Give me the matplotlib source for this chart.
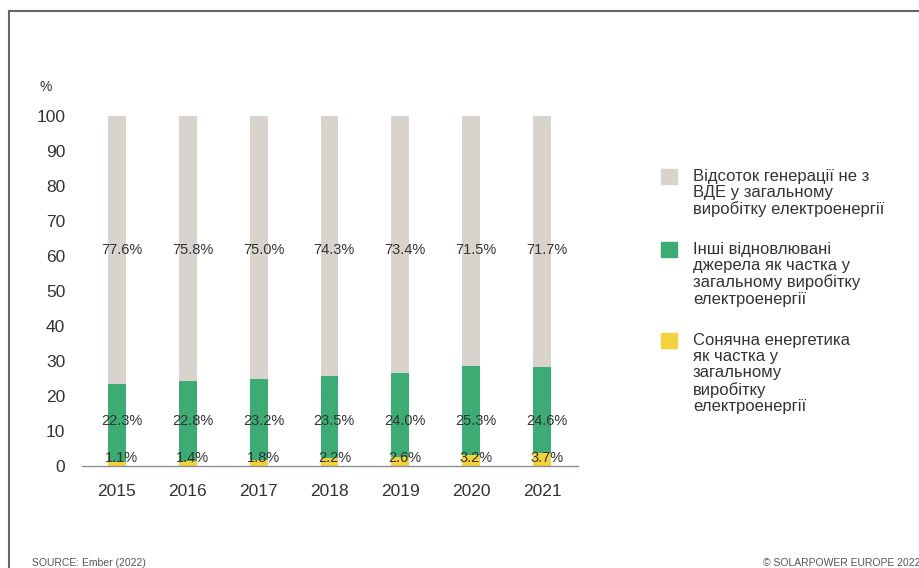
import matplotlib.pyplot as plt
from matplotlib.lines import Line2D
from matplotlib.patches import Rectangle

plt.rcParams['font.family'] = ['Liberation Sans', 'DejaVu Sans']

years = ['2015', '2016', '2017', '2018', '2019', '2020', '2021']
solar = [1.1, 1.4, 1.8, 2.2, 2.6, 3.2, 3.7]
other_re = [22.3, 22.8, 23.2, 23.5, 24.0, 25.3, 24.6]
non_re = [77.6, 75.8, 75.0, 74.3, 73.4, 71.5, 71.7]

legend_labels = [
    'Відсоток генерації не з\nВДЕ у загальному\nвиробітку електроенергії',
    'Інші відновлювані\nджерела як частка у\nзагальному виробітку\nелектроенергії',
    'Сонячна енергетика\nяк частка у\nзагальному\nвиробітку\nелектроенергії',
]

c_gray = '#d9d3ce'
c_green = '#3dab74'
c_yellow = '#f4d23e'
c_text = '#333333'

W, H = 919, 568
fig = plt.figure(figsize=(W / 100, H / 100), dpi=100)
ax = fig.add_axes([82 / W, 1 - 466 / H, (578 - 82) / W, 350 / H])

x = list(range(len(years)))
bw = 0.25
# the reference stacks to 100 regardless of label rounding
gray_bottom = [s + g for s, g in zip(solar, other_re)]
gray_h = [100 - b for b in gray_bottom]

ax.bar(x, solar, bw, color=c_yellow)
ax.bar(x, other_re, bw, bottom=solar, color=c_green)
ax.bar(x, gray_h, bw, bottom=gray_bottom, color=c_gray)

for i in x:
    ax.annotate(f'{non_re[i]:.1f}%', (i, 61.7), xytext=(3.5, 0), textcoords='offset points',
                ha='center', va='center', fontsize=10.5, color=c_text)
    ax.annotate(f'{other_re[i]:.1f}%', (i, 12.9), xytext=(3.5, 0), textcoords='offset points',
                ha='center', va='center', fontsize=10.5, color=c_text)
    ax.annotate(f'{solar[i]:.1f}%', (i, 2.4), xytext=(3.5, 0), textcoords='offset points',
                ha='center', va='center', fontsize=10.5, color=c_text)

ax.set_xlim(-0.494, 6.508)
ax.set_ylim(0, 100)
ax.set_xticks(x)
ax.set_xticklabels(years)
ax.set_yticks(range(0, 101, 10))
ax.tick_params(axis='both', length=0, labelsize=12.5, colors=c_text)
ax.tick_params(axis='y', pad=12)
ax.tick_params(axis='x', pad=13)
for s in ['top', 'right', 'left']:
    ax.spines[s].set_visible(False)
ax.spines['bottom'].set_color('#8a8f96')
ax.spines['bottom'].set_linewidth(1)

fig.text(40 / W, 1 - 87 / H, '%', fontsize=10, color=c_text, ha='left', va='center')

# legend
leg_colors = [c_gray, c_green, c_yellow]
leg_tops = [169, 242, 333]
for lab, col, top in zip(legend_labels, leg_colors, leg_tops):
    fig.patches.append(Rectangle((661 / W, 1 - (top + 15) / H), 16 / W, 15 / H,
                                 transform=fig.transFigure, color=col))
    fig.text(693 / W, 1 - top / H, lab, fontsize=12, color=c_text,
             ha='left', va='top', linespacing=1.1)

fig.text(32 / W, 1 - 563 / H, 'SOURCE: Ember (2022)', fontsize=7.5, color='#555555',
         ha='left', va='center')
fig.text(763 / W, 1 - 563 / H, '© SOLARPOWER EUROPE 2022', fontsize=7.5, color='#555555',
         ha='left', va='center')

# frame of the slide
fig.add_artist(Line2D([8.5 / W, 1], [1 - 10.5 / H, 1 - 10.5 / H], color='#666666', lw=1.5,
                      transform=fig.transFigure))
fig.add_artist(Line2D([8.5 / W, 8.5 / W], [0, 1 - 10.5 / H], color='#666666', lw=1.5,
                      transform=fig.transFigure))

fig.savefig('out.png', dpi=100)
